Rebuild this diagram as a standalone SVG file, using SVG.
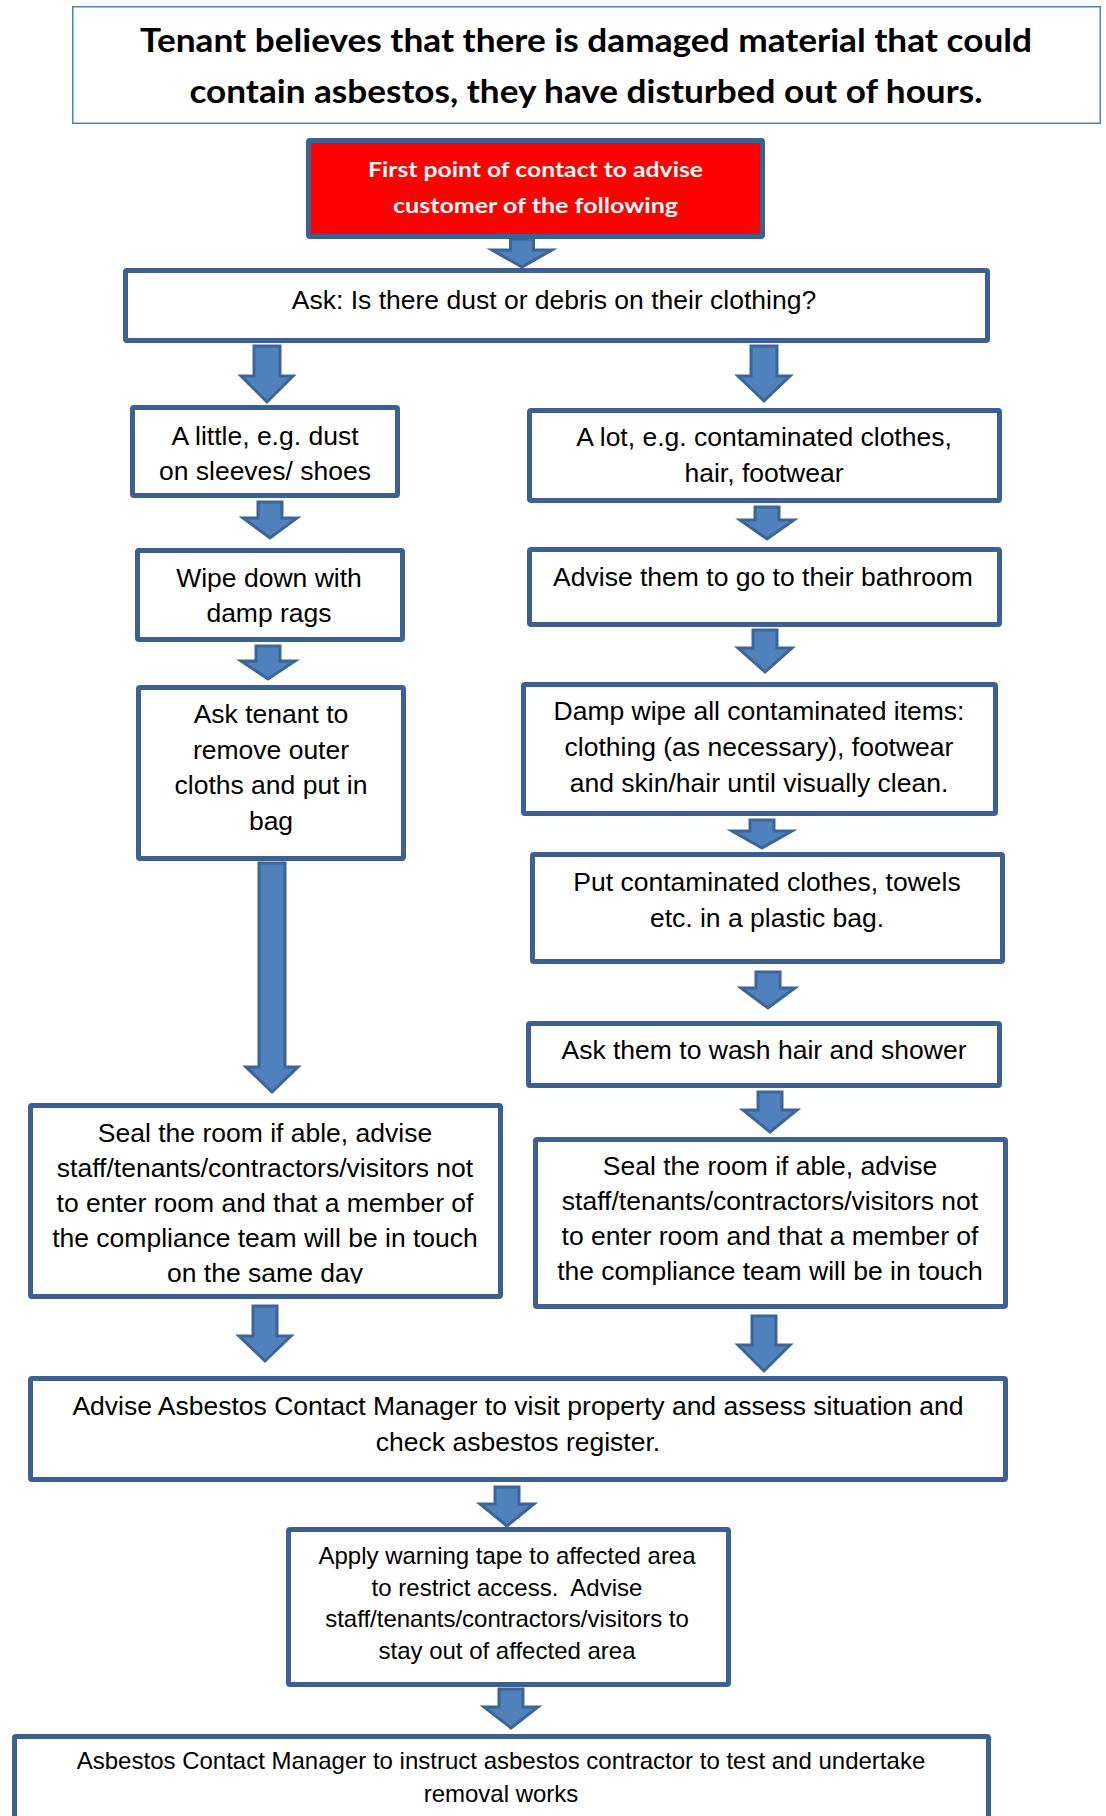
<svg xmlns="http://www.w3.org/2000/svg" width="1106" height="1816" viewBox="0 0 1106 1816">
  <defs>
    <style>
      .box { fill: #ffffff; stroke: #3B6091; stroke-width: 5; }
      .head { fill: #ffffff; stroke: #4F81BD; stroke-width: 1.5; }
      .alert { fill: #FF0000; stroke: #3B6091; stroke-width: 5; }
      .arrow { fill: #4F81BD; stroke: #3D6595; stroke-width: 3; stroke-linejoin: miter; }
      .t { font-family: "Liberation Sans", Arial, sans-serif; font-size: 26.5px; fill: #000000; text-anchor: middle; }
      .s { font-family: "Liberation Sans", Arial, sans-serif; font-size: 24px; fill: #000000; text-anchor: middle; }
      .ht { font-family: Lato, "Open Sans", sans-serif; font-weight: bold; font-size: 32px; fill: #000000; text-anchor: middle; }
      .rt { font-family: Lato, "Open Sans", sans-serif; font-weight: bold; font-size: 20px; fill: #ffffff; text-anchor: middle; }
    </style>
    <!-- the last line of the left "seal" box overflows its frame and is cut just below the baseline -->
    <clipPath id="sealLeftClip">
      <rect x="30" y="1100" width="472" height="183.5"/>
    </clipPath>
  </defs>

  <rect width="1106" height="1816" fill="#ffffff"/>

  <!-- block arrows between steps -->
  <g id="connectors">
    <path class="arrow" d="M510.5,239 H533.5 V250 H552 L522,267 L492,250 H510.5 Z"/>
    <path class="arrow" d="M254,346 H280 V376 H293 L267,402 L241,376 H254 Z"/>
    <path class="arrow" d="M751,346 H777 V376 H790 L764,401 L738,376 H751 Z"/>
    <path class="arrow" d="M258,502 H282 V518 H297 L270,538 L243,518 H258 Z"/>
    <path class="arrow" d="M755,507 H779 V520 H794 L767,539 L740,520 H755 Z"/>
    <path class="arrow" d="M256,646 H280 V661 H295 L268,679 L241,661 H256 Z"/>
    <path class="arrow" d="M753,630 H777 V648 H792 L765,672 L738,648 H753 Z"/>
    <path class="arrow" d="M750,820 H774 V831 H792 L762,848 L732,831 H750 Z"/>
    <path class="arrow" d="M259,863 H285 V1067 H298 L272,1092 L246,1067 H259 Z"/>
    <path class="arrow" d="M756,972 H780 V988 H795 L768,1008 L741,988 H756 Z"/>
    <path class="arrow" d="M758,1092 H782 V1110 H797 L770,1132 L743,1110 H758 Z"/>
    <path class="arrow" d="M253,1306 H277 V1336 H291 L265,1361 L239,1336 H253 Z"/>
    <path class="arrow" d="M752,1316 H776 V1345 H790 L764,1371 L738,1345 H752 Z"/>
    <path class="arrow" d="M495,1487 H519 V1504 H534 L507,1526 L480,1504 H495 Z"/>
    <path class="arrow" d="M499,1689 H523 V1707 H538 L511,1728 L484,1707 H499 Z"/>
  </g>

  <g id="title">
    <rect class="head" x="72.75" y="6.75" width="1027.5" height="116.5"/>
    <text class="ht" x="586" y="52" textLength="892" lengthAdjust="spacingAndGlyphs">Tenant believes that there is damaged material that could</text>
    <text class="ht" x="586" y="103" textLength="793" lengthAdjust="spacingAndGlyphs">contain asbestos, they have disturbed out of hours.</text>
  </g>

  <g id="first-contact">
    <rect class="alert" x="308.5" y="140.5" width="454" height="96" rx="1.5"/>
    <text class="rt" x="535.5" y="177" textLength="335" lengthAdjust="spacingAndGlyphs">First point of contact to advise</text>
    <text class="rt" x="535.5" y="213" textLength="285" lengthAdjust="spacingAndGlyphs">customer of the following</text>
  </g>

  <g id="ask-dust">
    <rect class="box" x="125.5" y="270.5" width="862" height="70" rx="1.5"/>
    <text class="t" x="554" y="309">Ask: Is there dust or debris on their clothing?</text>
  </g>

  <g id="a-little">
    <rect class="box" x="132.5" y="407.5" width="265" height="88" rx="1.5"/>
    <text class="t" x="265" y="445">A little, e.g. dust</text>
    <text class="t" x="265" y="480">on sleeves/ shoes</text>
  </g>

  <g id="a-lot">
    <rect class="box" x="529.5" y="410.5" width="470" height="90" rx="1.5"/>
    <text class="t" x="764" y="446">A lot, e.g. contaminated clothes,</text>
    <text class="t" x="764" y="482">hair, footwear</text>
  </g>

  <g id="wipe-down">
    <rect class="box" x="137.5" y="550.5" width="265" height="89" rx="1.5"/>
    <text class="t" x="269" y="587">Wipe down with</text>
    <text class="t" x="269" y="622">damp rags</text>
  </g>

  <g id="go-bathroom">
    <rect class="box" x="529.5" y="549.5" width="470" height="75" rx="1.5"/>
    <text class="t" x="763" y="586">Advise them to go to their bathroom</text>
  </g>

  <g id="remove-outer">
    <rect class="box" x="138.5" y="687.5" width="265" height="171" rx="1.5"/>
    <text class="t" x="271" y="723">Ask tenant to</text>
    <text class="t" x="271" y="758.5">remove outer</text>
    <text class="t" x="271" y="794">cloths and put in</text>
    <text class="t" x="271" y="829.5">bag</text>
  </g>

  <g id="damp-wipe">
    <rect class="box" x="523.5" y="684.5" width="472" height="129" rx="1.5"/>
    <text class="t" x="759" y="720">Damp wipe all contaminated items:</text>
    <text class="t" x="759" y="756">clothing (as necessary), footwear</text>
    <text class="t" x="759" y="792">and skin/hair until visually clean.</text>
  </g>

  <g id="bag-clothes">
    <rect class="box" x="532.5" y="854.5" width="470" height="107" rx="1.5"/>
    <text class="t" x="767" y="891">Put contaminated clothes, towels</text>
    <text class="t" x="767" y="927">etc. in a plastic bag.</text>
  </g>

  <g id="wash-shower">
    <rect class="box" x="528.5" y="1023.5" width="471" height="62" rx="1.5"/>
    <text class="t" x="764" y="1059">Ask them to wash hair and shower</text>
  </g>

  <g id="seal-left">
    <rect class="box" x="30.5" y="1105.5" width="470" height="191" rx="1.5"/>
    <g clip-path="url(#sealLeftClip)">
      <text class="t" x="265" y="1142">Seal the room if able, advise</text>
      <text class="t" x="265" y="1177">staff/tenants/contractors/visitors not</text>
      <text class="t" x="265" y="1212">to enter room and that a member of</text>
      <text class="t" x="265" y="1247">the compliance team will be in touch</text>
      <text class="t" x="265" y="1282">on the same day</text>
    </g>
  </g>

  <g id="seal-right">
    <rect class="box" x="535.5" y="1139.5" width="470" height="167" rx="1.5"/>
    <text class="t" x="770" y="1175">Seal the room if able, advise</text>
    <text class="t" x="770" y="1210">staff/tenants/contractors/visitors not</text>
    <text class="t" x="770" y="1245">to enter room and that a member of</text>
    <text class="t" x="770" y="1280">the compliance team will be in touch</text>
  </g>

  <g id="advise-manager">
    <rect class="box" x="30.5" y="1378.5" width="975" height="101" rx="1.5"/>
    <text class="t" x="518" y="1414.5">Advise Asbestos Contact Manager to visit property and assess situation and</text>
    <text class="t" x="518" y="1451">check asbestos register.</text>
  </g>

  <g id="warning-tape">
    <rect class="box" x="288.5" y="1529.5" width="440" height="155" rx="1.5"/>
    <text class="s" x="507" y="1564">Apply warning tape to affected area</text>
    <text class="s" x="507" y="1595.5">to restrict access.&#160; Advise</text>
    <text class="s" x="507" y="1627">staff/tenants/contractors/visitors to</text>
    <text class="s" x="507" y="1658.5">stay out of affected area</text>
  </g>

  <g id="removal-works">
    <rect class="box" x="14.5" y="1736.5" width="974" height="110" rx="1.5"/>
    <text class="s" x="501" y="1769">Asbestos Contact Manager to instruct asbestos contractor to test and undertake</text>
    <text class="s" x="501" y="1802">removal works</text>
  </g>
</svg>
